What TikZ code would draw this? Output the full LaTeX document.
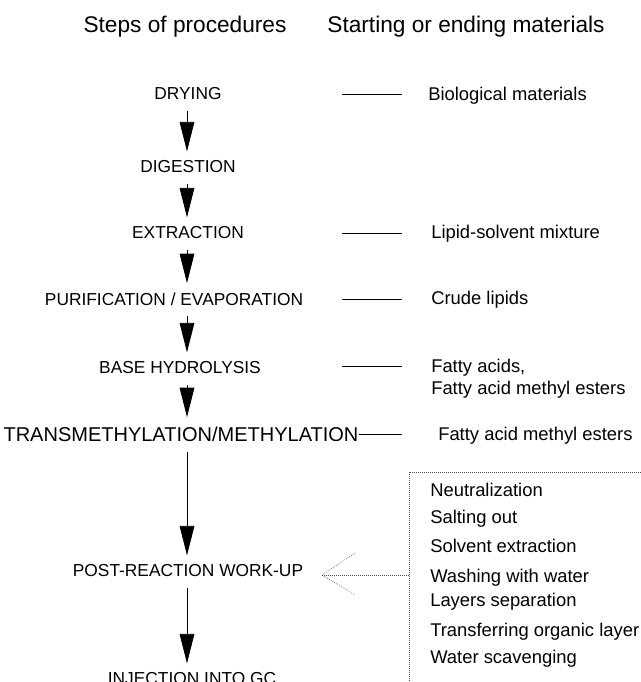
\documentclass[tikz,border=0pt]{standalone}
\usepackage{fontspec}
\setmainfont{Liberation Sans}
\usetikzlibrary{arrows.meta}

\begin{document}
\begin{tikzpicture}[x=0.75pt,y=-0.75pt,
        stepnode/.style={inner sep=0pt, font=\fontsize{13}{15}\selectfont},
        matnode/.style={anchor=west, inner sep=0pt, text height=9.9pt, text depth=0pt, font=\fontsize{13.8}{16}\selectfont},
        headnode/.style={inner sep=0pt, text height=12.2pt, text depth=0pt, font=\fontsize{17}{20}\selectfont},
        flow/.style={line width=0.6pt, -{Triangle[length=22pt,width=11pt]}, shorten <=8pt, shorten >=7pt},
        link/.style={line width=0.5pt},
        dots/.style={densely dotted, line width=0.5pt, black!70}]
        \useasboundingbox (0,0) rectangle (641,682);
        \coordinate (col) at (187,0);
        \coordinate (la) at (342,0);
        \coordinate (lb) at (402,0);
        \coordinate (boxc) at (409,472);
        \coordinate (tip) at (322,575);
        \node[headnode] (h1) at (185,24) {Steps of procedures};
        \node[headnode] (h2) at (466,24) {Starting or ending materials};
        \node[stepnode] (dry) at (188,94) {DRYING};
        \node[stepnode] (dig) at (188,167) {DIGESTION};
        \node[stepnode] (ext) at (188,233) {EXTRACTION};
        \node[stepnode] (pur) at (174,299) {PURIFICATION / EVAPORATION};
        \node[stepnode] (hyd) at (180,368) {BASE HYDROLYSIS};
        \node[stepnode, font=\fontsize{15}{17}\selectfont] (trans) at (181,434) {TRANSMETHYLATION/METHYLATION};
        \node[stepnode] (post) at (188,571) {POST-REACTION WORK-UP};
        \node[stepnode] (inj) at (192,679) {INJECTION INTO GC};
        \draw[flow] (dry.south -| col) -- (dig.north -| col);
        \draw[flow] (dig.south -| col) -- (ext.north -| col);
        \draw[flow] (ext.south -| col) -- (pur.north -| col);
        \draw[flow] (pur.south -| col) -- (hyd.north -| col);
        \draw[flow] (hyd.south -| col) -- (trans.north -| col);
        \draw[flow] (trans.south -| col) -- (post.north -| col);
        \draw[flow] (post.south -| col) -- (inj.north -| col);
        \node[matnode] (bio) at (428,94) {Biological materials};
        \node[matnode] (mix) at (431,232) {Lipid-solvent mixture};
        \node[matnode] (crude) at (431,298) {Crude lipids};
        \node[matnode] (fa) at (431,366) {Fatty acids,};
        \node[matnode] (fae) at (431,388) {Fatty acid methyl esters};
        \node[matnode] (fame) at (438,434) {Fatty acid methyl esters};
        \draw[link] (dry -| la) -- (dry -| lb);
        \draw[link] (ext -| la) -- (ext -| lb);
        \draw[link] (pur -| la) -- (pur -| lb);
        \draw[link] (fa -| la) -- (fa -| lb);
        \draw[link] (trans.east) -- (trans -| lb);
        \draw[dots] (boxc -| 641,0) -- (boxc) -- (boxc |- 0,682);
        \foreach \y/\txt [count=\i] in {490/Neutralization, 517/Salting out, 546/Solvent extraction, 576/Washing with water, 600/Layers separation, 630/Transferring organic layer, 657/Water scavenging}
            \node[matnode] (w\i) at (430,\y) {\txt};
        \draw[dots] (tip -| boxc) -- (tip);
        \draw[dots] (355,553) -- (tip) -- (355,595);
\end{tikzpicture}
\end{document}
